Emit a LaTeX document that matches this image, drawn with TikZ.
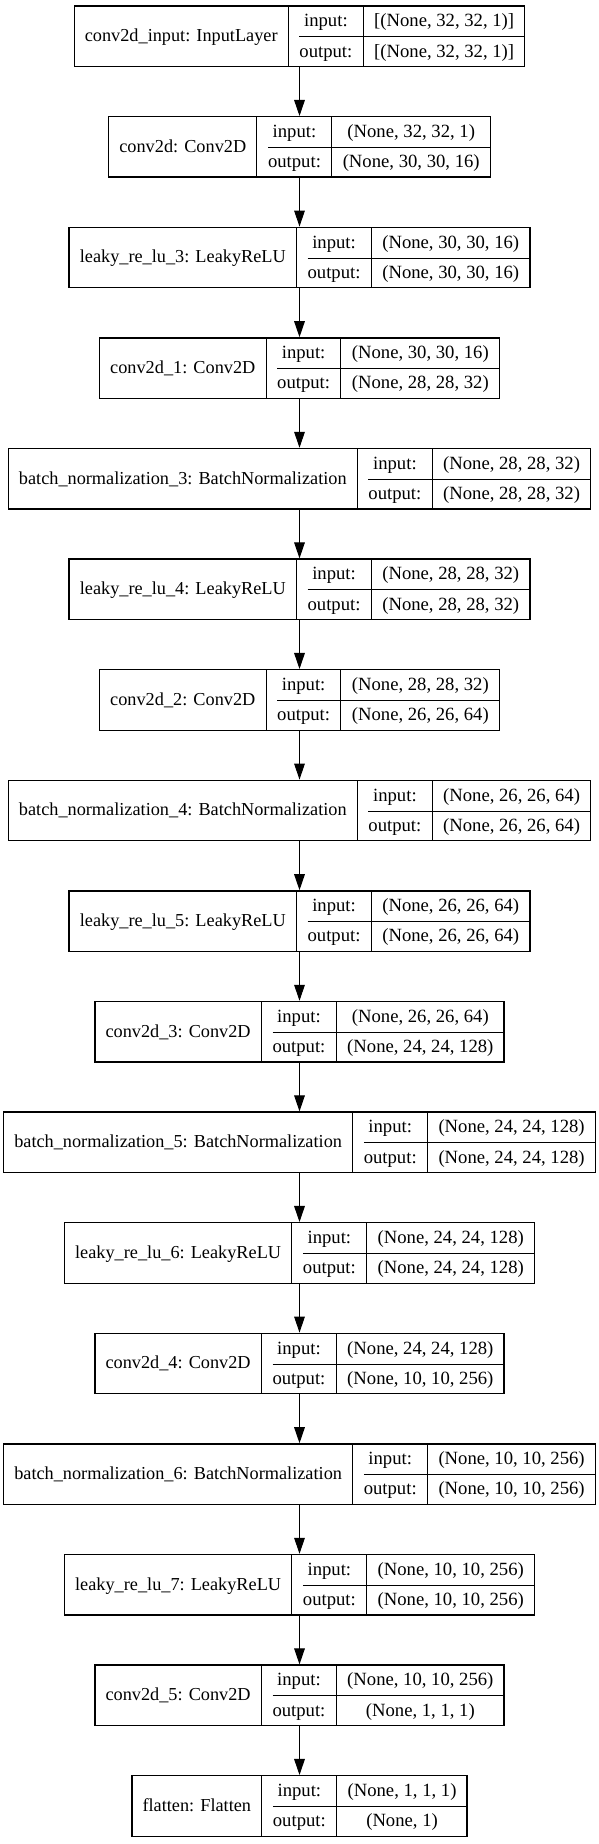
\documentclass[tikz,border=0pt]{standalone}
\usepackage{fontspec}
\setmainfont{Liberation Serif}
\usetikzlibrary{arrows.meta}

\setlength\arrayrulewidth{0.75pt}
\renewcommand\arraystretch{0}
\newcommand\rowstrut{\rule[-7.1pt]{0pt}{22.7pt}}
\newcommand\layerrec[3]{%
  \begin{tabular}{@{\hspace{8pt}}c@{\hspace{8pt}}|@{\hspace{8pt}}c@{\hspace{8pt}}|@{\hspace{8pt}}c@{\hspace{8pt}}}
    \raisebox{-11.2pt}[0pt][0pt]{\fontsize{13.7pt}{16.4pt}\selectfont #1} & \rowstrut input: & #2\\ \cline{2-3}
    & \rowstrut output: & #3
  \end{tabular}}

\tikzset{
  recbox/.style={draw, line width=1pt, inner sep=0pt, font=\fontsize{14pt}{16.8pt}\selectfont},
  flow/.style={line width=0.75pt, -{Triangle[length=12pt,width=8pt]}}
}

\begin{document}
\begin{tikzpicture}[x=0.75pt,y=-0.75pt]
  \useasboundingbox (0,0) rectangle (599,1844);

  % input
  \node[recbox] (input) at (299.5, 36.3) {\layerrec{conv2d\_input: InputLayer}{[(None, 32, 32, 1)]}{[(None, 32, 32, 1)]}};
  % conv2d
  \node[recbox] (conv) at (299.5, 146.9) {\layerrec{conv2d: Conv2D}{(None, 32, 32, 1)}{(None, 30, 30, 16)}};
  \node[recbox] (leaky3) at (299.5, 257.5) {\layerrec{leaky\_re\_lu\_3: LeakyReLU}{(None, 30, 30, 16)}{(None, 30, 30, 16)}};
  % conv2d_1
  \node[recbox] (conv1) at (299.5, 368.1) {\layerrec{conv2d\_1: Conv2D}{(None, 30, 30, 16)}{(None, 28, 28, 32)}};
  \node[recbox] (bn3) at (299.5, 478.7) {\layerrec{batch\_normalization\_3: BatchNormalization}{(None, 28, 28, 32)}{(None, 28, 28, 32)}};
  \node[recbox] (leaky4) at (299.5, 589.3) {\layerrec{leaky\_re\_lu\_4: LeakyReLU}{(None, 28, 28, 32)}{(None, 28, 28, 32)}};
  % conv2d_2
  \node[recbox] (conv2) at (299.5, 699.9) {\layerrec{conv2d\_2: Conv2D}{(None, 28, 28, 32)}{(None, 26, 26, 64)}};
  \node[recbox] (bn4) at (299.5, 810.5) {\layerrec{batch\_normalization\_4: BatchNormalization}{(None, 26, 26, 64)}{(None, 26, 26, 64)}};
  \node[recbox] (leaky5) at (299.5, 921.1) {\layerrec{leaky\_re\_lu\_5: LeakyReLU}{(None, 26, 26, 64)}{(None, 26, 26, 64)}};
  % conv2d_3
  \node[recbox] (conv3) at (299.5, 1031.7) {\layerrec{conv2d\_3: Conv2D}{(None, 26, 26, 64)}{(None, 24, 24, 128)}};
  \node[recbox] (bn5) at (299.5, 1142.3) {\layerrec{batch\_normalization\_5: BatchNormalization}{(None, 24, 24, 128)}{(None, 24, 24, 128)}};
  \node[recbox] (leaky6) at (299.5, 1252.9) {\layerrec{leaky\_re\_lu\_6: LeakyReLU}{(None, 24, 24, 128)}{(None, 24, 24, 128)}};
  % conv2d_4
  \node[recbox] (conv4) at (299.5, 1363.5) {\layerrec{conv2d\_4: Conv2D}{(None, 24, 24, 128)}{(None, 10, 10, 256)}};
  \node[recbox] (bn6) at (299.5, 1474.1) {\layerrec{batch\_normalization\_6: BatchNormalization}{(None, 10, 10, 256)}{(None, 10, 10, 256)}};
  \node[recbox] (leaky7) at (299.5, 1584.7) {\layerrec{leaky\_re\_lu\_7: LeakyReLU}{(None, 10, 10, 256)}{(None, 10, 10, 256)}};
  % conv2d_5
  \node[recbox] (conv5) at (299.5, 1695.3) {\layerrec{conv2d\_5: Conv2D}{(None, 10, 10, 256)}{(None, 1, 1, 1)}};
  % flatten
  \node[recbox] (flatten) at (299.5, 1805.9) {\layerrec{flatten: Flatten}{(None, 1, 1, 1)}{(None, 1)}};

  % arrows
  \draw[flow] (input) -- (conv);
  \draw[flow] (conv) -- (leaky3);
  \draw[flow] (leaky3) -- (conv1);
  \draw[flow] (conv1) -- (bn3);
  \draw[flow] (bn3) -- (leaky4);
  \draw[flow] (leaky4) -- (conv2);
  \draw[flow] (conv2) -- (bn4);
  \draw[flow] (bn4) -- (leaky5);
  \draw[flow] (leaky5) -- (conv3);
  \draw[flow] (conv3) -- (bn5);
  \draw[flow] (bn5) -- (leaky6);
  \draw[flow] (leaky6) -- (conv4);
  \draw[flow] (conv4) -- (bn6);
  \draw[flow] (bn6) -- (leaky7);
  \draw[flow] (leaky7) -- (conv5);
  \draw[flow] (conv5) -- (flatten);
\end{tikzpicture}
\end{document}
